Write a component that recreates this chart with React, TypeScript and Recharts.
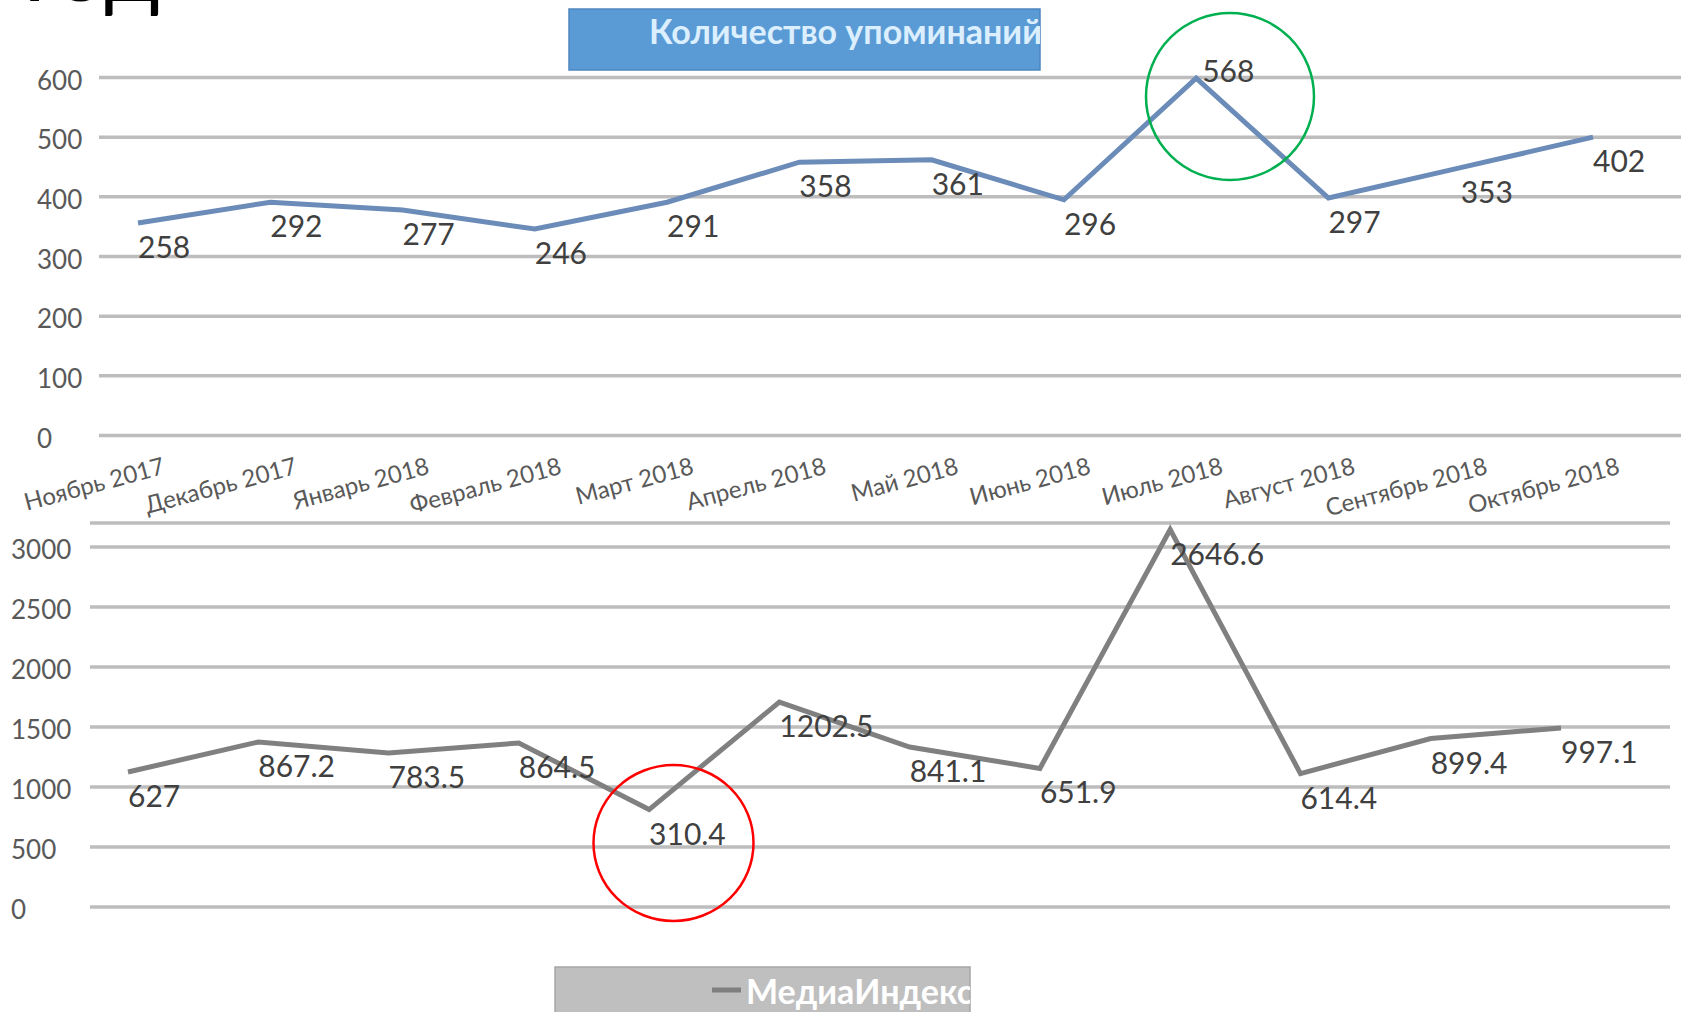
import { LineChart, Line, XAxis, YAxis, CartesianGrid, LabelList } from "recharts";

const months = [
  "Ноябрь 2017",
  "Декабрь 2017",
  "Январь 2018",
  "Февраль 2018",
  "Март 2018",
  "Апрель 2018",
  "Май 2018",
  "Июнь 2018",
  "Июль 2018",
  "Август 2018",
  "Сентябрь 2018",
  "Октябрь 2018",
];

// where the lines are drawn
const mentions = [356, 391, 378, 346, 391, 458, 462, 395, 599, 398, 449, 500];
const mediaIndex = [1125, 1375, 1283, 1367, 812, 1708, 1333, 1155, 3145, 1112, 1404, 1492];

// what the data labels say
const mentionLabels = ["258", "292", "277", "246", "291", "358", "361", "296", "568", "297", "353", "402"];
const mediaLabels = ["627", "867.2", "783.5", "864.5", "310.4", "1202.5", "841.1", "651.9", "2646.6", "614.4", "899.4", "997.1"];

const mentionTicks = [0, 100, 200, 300, 400, 500, 600];
const mediaTicks = [0, 500, 1000, 1500, 2000, 2500, 3000];

const data = months.map((month, i) => ({
  month,
  mentions: mentions[i],
  media: mediaIndex[i],
}));

const FONT = "Lato, 'Open Sans', sans-serif";
const GRID = "#bdbdbd";
const TEXT = "#595959";

const yTick = (left: number) => (props: any) => (
  <text
    x={left}
    y={props.y + 2}
    textAnchor="start"
    dominantBaseline="central"
    fill={TEXT}
    fontSize={26}
    fontFamily={FONT}
  >
    {props.payload.value}
  </text>
);

const MonthTick = (props: any) => {
  const ax = props.x + 28;
  const ay = props.y + 38;
  return (
    <text
      x={ax}
      y={ay}
      transform={`rotate(-15 ${ax} ${ay})`}
      textAnchor="end"
      fill={TEXT}
      fontSize={24}
      fontFamily={FONT}
    >
      {props.payload.value}
    </text>
  );
};

const valueLabel = (labels: string[], peak: number) => (props: any) => {
  const { x, y, index } = props;
  const above = index === peak;
  return (
    <text
      x={above ? x + 6 : x}
      y={above ? y + 4 : y + 35}
      textAnchor="start"
      fill="#404040"
      fontSize={30}
      fontFamily={FONT}
    >
      {labels[index]}
    </text>
  );
};

const topPeak = mentions.indexOf(Math.max(...mentions));

export default function App() {
  return (
    <div
      style={{
        position: "absolute",
        left: 0,
        top: 0,
        width: 1681,
        height: 1012,
        background: "#fff",
        overflow: "hidden",
        fontFamily: FONT,
      }}
    >
      <div style={{ position: "absolute", left: 0, top: 500 }}>
        <LineChart
          width={1681}
          height={420}
          data={data}
          margin={{ top: 23, right: 11, bottom: 13, left: 0 }}
        >
          <CartesianGrid vertical={false} stroke={GRID} strokeWidth={3.5} />
          <XAxis
            dataKey="month"
            hide
            height={0}
            padding={{ left: 38, right: 109 }}
          />
          <YAxis
            width={90}
            domain={[0, 3200]}
            ticks={mediaTicks}
            axisLine={false}
            tickLine={false}
            tick={yTick(11)}
          />
          <Line
            type="linear"
            dataKey="media"
            stroke="#808080"
            strokeWidth={5}
            dot={false}
            isAnimationActive={false}
          >
            <LabelList dataKey="media" content={valueLabel(mediaLabels, -1)} />
          </Line>
        </LineChart>
      </div>

      <div style={{ position: "absolute", left: 0, top: 0 }}>
        <LineChart
          width={1681}
          height={560}
          data={data}
          margin={{ top: 77.5, right: 0, bottom: 0, left: 0 }}
        >
          <CartesianGrid vertical={false} stroke={GRID} strokeWidth={3.5} />
          <XAxis
            dataKey="month"
            height={124.5}
            interval={0}
            axisLine={false}
            tickLine={false}
            tickSize={0}
            tickMargin={0}
            padding={{ left: 39, right: 88 }}
            tick={MonthTick}
          />
          <YAxis
            width={99}
            domain={[0, 600]}
            ticks={mentionTicks}
            axisLine={false}
            tickLine={false}
            tick={yTick(37)}
          />
          <Line
            type="linear"
            dataKey="mentions"
            stroke="#6b8cb8"
            strokeWidth={5}
            dot={false}
            isAnimationActive={false}
          >
            <LabelList dataKey="mentions" content={valueLabel(mentionLabels, topPeak)} />
          </Line>
        </LineChart>
      </div>

      <svg
        width={1681}
        height={1012}
        style={{ position: "absolute", left: 0, top: 0, pointerEvents: "none" }}
      >
        <defs>
          <clipPath id="topLegendClip">
            <rect x={569} y={9} width={471} height={61} />
          </clipPath>
          <clipPath id="bottomLegendClip">
            <rect x={555} y={967} width={415} height={60} />
          </clipPath>
        </defs>

        <text x={22} y={1} fontSize={90} fontFamily={FONT} fill="#000">
          Год
        </text>

        <rect x={569} y={9} width={471} height={61} fill="#5b9bd5" stroke="#4d86bf" strokeWidth={1.5} />
        <g clipPath="url(#topLegendClip)">
          <text x={649} y={44} fontSize={34} fontWeight="bold" fontFamily={FONT} fill="#dcefff">
            Количество упоминаний
          </text>
        </g>

        <rect x={555} y={967} width={415} height={60} fill="#bfbfbf" stroke="#a6a6a6" strokeWidth={1.5} />
        <line x1={712} y1={990} x2={741} y2={990} stroke="#7f7f7f" strokeWidth={5} />
        <g clipPath="url(#bottomLegendClip)">
          <text x={746} y={1004} fontSize={34} fontWeight="bold" fontFamily={FONT} fill="#ffffff">
            МедиаИндекс
          </text>
        </g>

        <ellipse cx={1230} cy={96.5} rx={84} ry={83.5} fill="none" stroke="#00b050" strokeWidth={2.5} />
        <ellipse cx={673.5} cy={843} rx={80} ry={78} fill="none" stroke="#ff0000" strokeWidth={2.5} />
      </svg>
    </div>
  );
}
